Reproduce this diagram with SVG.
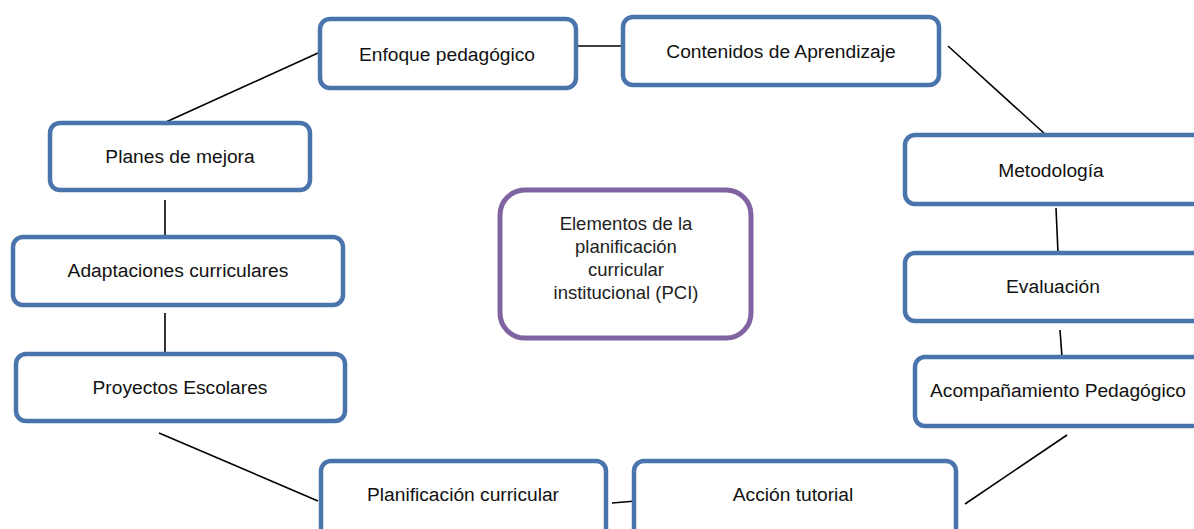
<svg xmlns="http://www.w3.org/2000/svg" width="1194" height="529" viewBox="0 0 1194 529">
<style>
.box{fill:#fff;stroke:#4a75ac;stroke-width:4.5}
.center{fill:#fff;stroke:#8064a2;stroke-width:5}
.lbl{font-family:"Liberation Sans",Arial,sans-serif;font-size:19.2px;fill:#111;text-anchor:middle}
.clbl{font-family:"Liberation Sans",Arial,sans-serif;font-size:18.5px;fill:#222;text-anchor:middle}
.con line{stroke:#000;stroke-width:1.6}
</style>
<rect width="1194" height="529" fill="#fff"/>
<g id="connectors" class="con">
<line x1="318" y1="53" x2="166" y2="122"/>
<line x1="578" y1="46" x2="621" y2="46"/>
<line x1="948" y1="46" x2="1046" y2="135"/>
<line x1="1056" y1="208" x2="1058" y2="253"/>
<line x1="1060" y1="330" x2="1062" y2="357"/>
<line x1="1067" y1="435" x2="965" y2="504"/>
<line x1="612" y1="503" x2="636" y2="501"/>
<line x1="318" y1="501" x2="159" y2="433"/>
<line x1="165" y1="313" x2="165" y2="360"/>
<line x1="165" y1="200" x2="165" y2="244"/>
</g>
<g id="enfoque"><rect class="box" x="320" y="19" width="256" height="69" rx="10"/><text class="lbl" x="447" y="61">Enfoque pedagógico</text></g>
<g id="contenidos"><rect class="box" x="623" y="17" width="316" height="68" rx="10"/><text class="lbl" x="781" y="58">Contenidos de Aprendizaje</text></g>
<g id="planes"><rect class="box" x="50" y="123" width="260" height="67" rx="10"/><text class="lbl" x="180" y="163">Planes de mejora</text></g>
<g id="metodologia"><rect class="box" x="905" y="135" width="300" height="69" rx="10"/><text class="lbl" x="1051" y="177">Metodología</text></g>
<g id="adaptaciones"><rect class="box" x="13" y="237" width="330" height="68" rx="10"/><text class="lbl" x="178" y="277">Adaptaciones curriculares</text></g>
<g id="evaluacion"><rect class="box" x="905" y="253" width="300" height="68" rx="10"/><text class="lbl" x="1053" y="293">Evaluación</text></g>
<g id="proyectos"><rect class="box" x="16" y="354" width="329" height="67" rx="10"/><text class="lbl" x="180" y="394">Proyectos Escolares</text></g>
<g id="acompanamiento"><rect class="box" x="915" y="357" width="300" height="69" rx="10"/><text class="lbl" x="1058" y="397">Acompañamiento Pedagógico</text></g>
<g id="planificacion"><rect class="box" x="321" y="461" width="285" height="79" rx="10"/><text class="lbl" x="463" y="501">Planificación curricular</text></g>
<g id="accion"><rect class="box" x="634" y="461" width="322" height="79" rx="10"/><text class="lbl" x="793" y="501">Acción tutorial</text></g>
<g id="pci"><rect class="center" x="500" y="190" width="251" height="148" rx="25"/>
<text class="clbl" x="626" y="230">Elementos de la</text>
<text class="clbl" x="626" y="253">planificación</text>
<text class="clbl" x="626" y="276">curricular</text>
<text class="clbl" x="626" y="299">institucional (PCI)</text>
</g>
</svg>
